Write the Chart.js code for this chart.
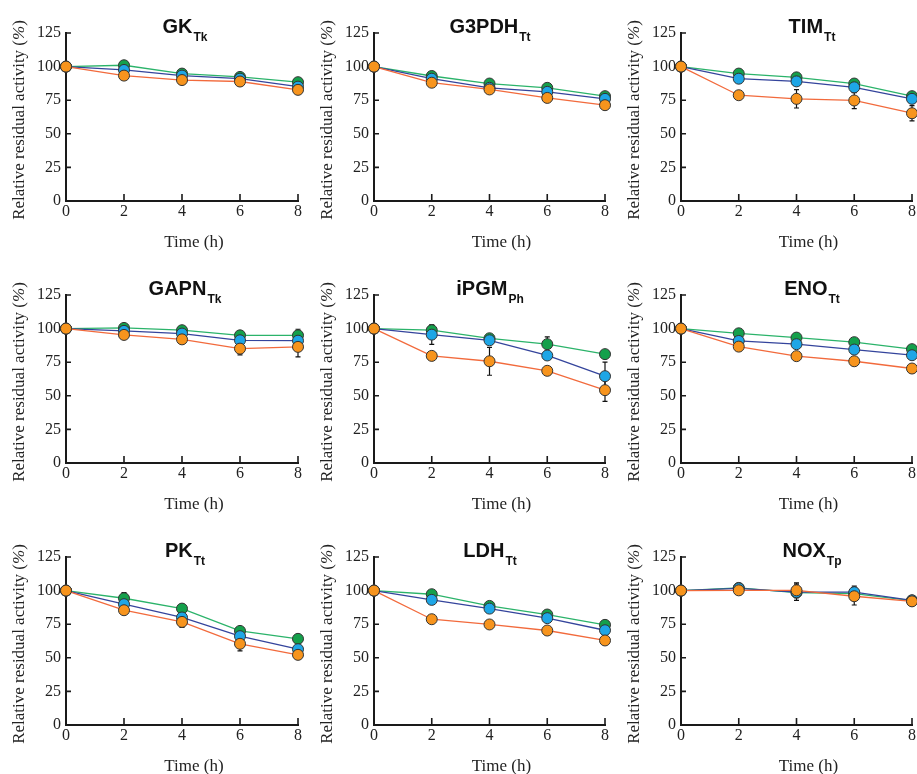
<!DOCTYPE html>
<html><head><meta charset="utf-8">
<script src="https://cdn.jsdelivr.net/npm/chart.js@4.4.1/dist/chart.umd.min.js"></script>
<style>
html,body{margin:0;padding:0;background:#fff;width:917px;height:774px;overflow:hidden;position:relative}
canvas{position:absolute}
</style></head><body>
<script>
// ---------- data ----------
const hours = [0, 2, 4, 6, 8];
const xTickValues = [0, 2, 4, 6, 8];
const yTickValues = [0, 25, 50, 75, 100, 125];
const panelNames = ['GK', 'G3PDH', 'TIM', 'GAPN', 'iPGM', 'ENO', 'PK', 'LDH', 'NOX'];
const panelSubs  = ['Tk', 'Tt', 'Tt', 'Tk', 'Ph', 'Tt', 'Tt', 'Tt', 'Tp'];

const greenValues = [
  [100, 101, 94.8, 92.3, 88.4],
  [100, 93, 87.4, 84.2, 78],
  [100, 94.8, 92, 87.4, 78],
  [100, 100.5, 98.8, 95, 95],
  [100, 98.8, 92.8, 88.4, 81],
  [100, 96.5, 93.3, 89.9, 84.7],
  [100, 94.3, 86.6, 70, 64.1],
  [100, 97.3, 88.6, 82.2, 74.5],
  [100, 102, 98.5, 97.8, 92.6]
];
const blueValues = [
  [100, 97.5, 93.3, 91, 85.1],
  [100, 91, 84.2, 81.2, 76],
  [100, 91, 89, 84.6, 76],
  [100, 98.3, 96.3, 91.3, 91],
  [100, 95.5, 91.3, 80, 64.6],
  [100, 90.8, 88.4, 84.4, 80.2],
  [100, 89.9, 80, 66.1, 56.4],
  [100, 93.1, 86.6, 79.5, 70.5],
  [100, 101.7, 98.8, 98.8, 92.8]
];
const orangeValues = [
  [100, 93.3, 90, 88.9, 82.7],
  [100, 88, 83, 76.7, 71.3],
  [100, 78.7, 76, 74.8, 65.3],
  [100, 95.3, 92, 85.1, 86.4],
  [100, 79.7, 75.7, 68.6, 54.2],
  [100, 86.6, 79.5, 75.7, 70.3],
  [100, 85.4, 76.7, 60.4, 52.2],
  [100, 78.7, 74.8, 70.3, 62.9],
  [100, 100.2, 100.2, 95.8, 92]
];
const greenErrors = [
  [0, 1, 1, 1, 1.5],
  [0, 1, 1, 1, 1],
  [0, 1, 1, 1, 1.5],
  [0, 1.5, 1.5, 2, 4.5],
  [0, 3.7, 1.5, 5.4, 2],
  [0, 1, 1, 1, 1],
  [0, 4.2, 1.5, 2, 1.5],
  [0, 1, 1, 1, 1],
  [0, 1, 1.5, 1.5, 1]
];
const blueErrors = [
  [0, 1, 1, 1, 1.5],
  [0, 1, 1, 1, 1.5],
  [0, 1, 1.5, 4, 1.5],
  [0, 1, 1.5, 1.5, 2],
  [0, 7.2, 1.5, 3, 10.4],
  [0, 1, 1, 1, 1],
  [0, 1.5, 2.5, 2, 1.5],
  [0, 1, 1, 1, 1],
  [0, 1, 6, 4.5, 1]
];
const orangeErrors = [
  [0, 1, 1, 1, 1.5],
  [0, 1, 1, 1, 1],
  [0, 1.5, 6.8, 6, 5.7],
  [0, 1.5, 1.5, 4.7, 7.5],
  [0, 2, 10.4, 2, 8.3],
  [0, 1, 1, 1, 1],
  [0, 1.5, 4, 5.2, 1.5],
  [0, 1, 1, 1, 1],
  [0, 1, 5.5, 6.5, 1]
];

// ---------- layout / style ----------
const colChartLeft = [66, 374, 681];
const colChartWidth = [232, 231, 231];
const colTitleCenter = [185, 490, 812];
const rowChartTop = [33, 295, 557];
const chartH = 168;
const leftSpace = 66, topSpace = 33, bottomSpace = 57, rightSpace = 10;
const serif = "'Liberation Serif', 'Times New Roman', serif";
const sans = "'Liberation Sans', Arial, sans-serif";
const textColor = '#222';

const seriesStyle = {
  green:  { line: '#2bb36a', fill: '#14a04b' },
  blue:   { line: '#34449c', fill: '#1ea6e6' },
  orange: { line: '#f26a3c', fill: '#f7941d' }
};

function makeDataset(vals, errs, style) {
  return {
    data: hours.map((h, i) => ({ x: h, y: vals[i] })),
    errors: errs,
    borderColor: style.line,
    borderWidth: 1.3,
    backgroundColor: style.fill,
    pointBackgroundColor: style.fill,
    pointBorderColor: '#333',
    pointBorderWidth: 1,
    pointRadius: 5.5,
    tension: 0,
    clip: false
  };
}

const decorPlugin = {
  id: 'decor',
  beforeDatasetsDraw(chart) {
    const ctx = chart.ctx, xs = chart.scales.x, ys = chart.scales.y;
    const a = chart.chartArea;
    ctx.save();
    // axes
    ctx.strokeStyle = '#1a1a1a';
    ctx.lineWidth = 2;
    ctx.beginPath();
    ctx.moveTo(a.left, ys.getPixelForValue(125) - 1);
    ctx.lineTo(a.left, a.bottom);
    ctx.lineTo(xs.getPixelForValue(8) + 1, a.bottom);
    ctx.stroke();
    ctx.lineWidth = 1.6;
    ctx.beginPath();
    xTickValues.forEach(v => {
      const px = xs.getPixelForValue(v);
      ctx.moveTo(px, a.bottom);
      ctx.lineTo(px, a.bottom - 7);
    });
    yTickValues.forEach(v => {
      const py = ys.getPixelForValue(v);
      ctx.moveTo(a.left, py);
      ctx.lineTo(a.left + 5, py);
    });
    ctx.stroke();
    // error bars
    ctx.strokeStyle = '#111';
    ctx.lineWidth = 1.2;
    chart.data.datasets.forEach(ds => {
      ds.data.forEach((p, i) => {
        const e = ds.errors[i];
        if (!e) return;
        const px = xs.getPixelForValue(p.x);
        const t = ys.getPixelForValue(p.y + e);
        const b = ys.getPixelForValue(p.y - e);
        ctx.beginPath();
        ctx.moveTo(px, t); ctx.lineTo(px, b);
        ctx.moveTo(px - 2.5, t); ctx.lineTo(px + 2.5, t);
        ctx.moveTo(px - 2.5, b); ctx.lineTo(px + 2.5, b);
        ctx.stroke();
      });
    });
    ctx.restore();
  },
  afterDraw(chart) {
    const ctx = chart.ctx, a = chart.chartArea;
    const o = chart.options.plugins.decor;
    ctx.save();
    ctx.fillStyle = textColor;
    // title with subscript
    ctx.font = 'bold 20px ' + sans;
    const wMain = ctx.measureText(o.name).width;
    ctx.font = 'bold 12px ' + sans;
    const wSub = ctx.measureText(o.sub).width;
    const startX = o.titleX - (wMain + wSub + 1) / 2;
    ctx.textBaseline = 'alphabetic';
    ctx.textAlign = 'left';
    ctx.fillStyle = '#111';
    ctx.font = 'bold 20px ' + sans;
    ctx.fillText(o.name, startX, a.top);
    ctx.font = 'bold 12px ' + sans;
    ctx.fillText(o.sub, startX + wMain + 1, a.top + 8);
    ctx.fillStyle = textColor;
    // x title
    ctx.font = '17px ' + serif;
    ctx.textAlign = 'center';
    ctx.fillText('Time (h)', (a.left + a.right) / 2 + 12, a.bottom + 46);
    // y title (rotated)
    ctx.translate(a.left - 46, (a.top + a.bottom) / 2 + 3);
    ctx.rotate(-Math.PI / 2);
    ctx.textAlign = 'left';
    const p1 = 'Relative residual activity (', p2 = '%', p3 = ')';
    ctx.font = '17px ' + serif;
    const w1 = ctx.measureText(p1).width, w3 = ctx.measureText(p3).width;
    ctx.font = 'italic 17px ' + serif;
    const w2 = ctx.measureText(p2).width;
    const total = w1 + w2 + w3;
    let x0 = -total / 2;
    ctx.textBaseline = 'middle';
    ctx.font = '17px ' + serif;
    ctx.fillText(p1, x0, 0);
    ctx.font = 'italic 17px ' + serif;
    ctx.fillText(p2, x0 + w1, 0);
    ctx.font = '17px ' + serif;
    ctx.fillText(p3, x0 + w1 + w2, 0);
    ctx.restore();
  }
};

for (let p = 0; p < 9; p++) {
  const col = p % 3, row = Math.floor(p / 3);
  const cw = leftSpace + colChartWidth[col] + rightSpace;
  const ch = topSpace + chartH + bottomSpace;
  const cLeft = colChartLeft[col] - leftSpace;
  const cTop = rowChartTop[row] - topSpace;
  const cv = document.createElement('canvas');
  cv.width = cw; cv.height = ch;
  cv.style.left = cLeft + 'px'; cv.style.top = cTop + 'px';
  cv.style.width = cw + 'px'; cv.style.height = ch + 'px';
  document.body.appendChild(cv);

  new Chart(cv, {
    type: 'line',
    data: {
      datasets: [
        makeDataset(orangeValues[p], orangeErrors[p], seriesStyle.orange),
        makeDataset(blueValues[p], blueErrors[p], seriesStyle.blue),
        makeDataset(greenValues[p], greenErrors[p], seriesStyle.green)
      ]
    },
    options: {
      responsive: false,
      animation: false,
      devicePixelRatio: 1,
      layout: { padding: { top: topSpace, right: rightSpace, left: 0, bottom: 0 } },
      plugins: {
        legend: { display: false },
        tooltip: { enabled: false },
        decor: { name: panelNames[p], sub: panelSubs[p], titleX: colTitleCenter[col] - cLeft }
      },
      scales: {
        x: {
          type: 'linear', min: 0, max: 8,
          afterBuildTicks: s => { s.ticks = xTickValues.map(v => ({ value: v })); },
          afterFit: s => { s.height = bottomSpace; },
          grid: { display: false, drawTicks: false },
          border: { display: false },
          ticks: { padding: 1, color: textColor, font: { family: serif, size: 16 }, maxRotation: 0 }
        },
        y: {
          type: 'linear', min: 0, max: 125,
          afterBuildTicks: s => { s.ticks = yTickValues.map(v => ({ value: v })); },
          afterFit: s => { s.width = leftSpace; },
          grid: { display: false, drawTicks: false },
          border: { display: false },
          ticks: { padding: 5, color: textColor, font: { family: serif, size: 16 } }
        }
      }
    },
    plugins: [decorPlugin]
  });
}
</script>
</body></html>
